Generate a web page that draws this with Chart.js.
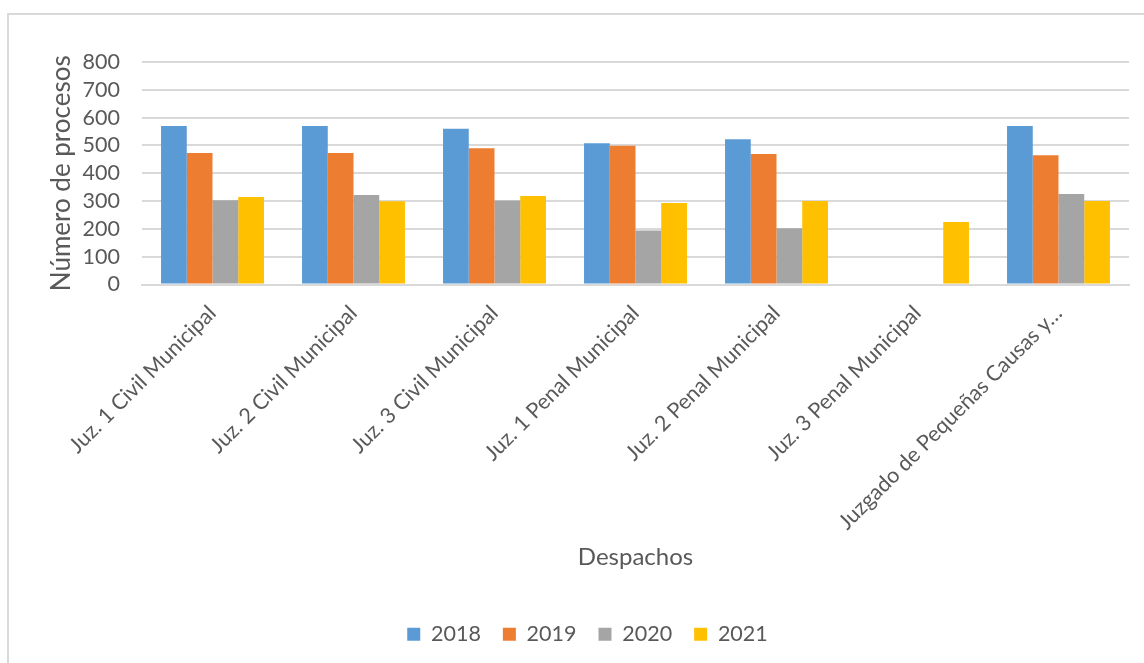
<!DOCTYPE html>
<html>
<head>
<meta charset="utf-8">
<script src="https://cdn.jsdelivr.net/npm/chart.js@4"></script>
<style>
    html, body { margin: 0; padding: 0; background: #fff; }
    #wrap { position: relative; width: 1144px; height: 663px; overflow: hidden; }
    #frame { position: absolute; left: 7px; top: 13px; width: 1160px; height: 680px; border: 2px solid #d9d9d9; box-sizing: border-box; }
    canvas { position: absolute; left: 0; top: 0; }
</style>
</head>
<body>
<div id="wrap">
    <div id="frame"></div>
    <canvas id="chart" width="1144" height="663"></canvas>
</div>
<script>
// Chart data
const despachos = [
    'Juz. 1 Civil Municipal',
    'Juz. 2 Civil Municipal',
    'Juz. 3 Civil Municipal',
    'Juz. 1 Penal Municipal',
    'Juz. 2 Penal Municipal',
    'Juz. 3 Penal Municipal',
    'Juzgado de Pequeñas Causas y…'
];
const years = ['2018', '2019', '2020', '2021'];
const values2018 = [570, 570, 560, 508, 522, null, 570];
const values2019 = [473, 473, 490, 499, 469, null, 465];
const values2020 = [303, 322, 302, 194, 202, null, 325];
const values2021 = [315, 299, 318, 293, 300, 225, 300];
const yTicks = [0, 100, 200, 300, 400, 500, 600, 700, 800];

const colors = ['#5B9BD5', '#ED7D31', '#A5A5A5', '#FFC000'];
const textColor = '#595959';
const fontFamily = 'Lato, "Open Sans", sans-serif';

const ctx = document.getElementById('chart').getContext('2d');

new Chart(ctx, {
    type: 'bar',
    data: {
        labels: despachos,
        datasets: [values2018, values2019, values2020, values2021].map((vals, i) => ({
            label: years[i],
            data: vals,
            backgroundColor: colors[i],
            borderWidth: 0,
            categoryPercentage: 0.73,
            barPercentage: 1
        }))
    },
    options: {
        responsive: false,
        animation: false,
        layout: {
            padding: { left: 46, right: 15, top: 62, bottom: 8 }
        },
        scales: {
            x: {
                grid: { display: false, drawTicks: false },
                border: { color: '#d9d9d9', width: 2 },
                ticks: {
                    color: textColor,
                    font: { family: fontFamily, size: 21.5 },
                    minRotation: 45,
                    maxRotation: 45,
                    autoSkip: false,
                    padding: 16
                },
                title: {
                    display: true,
                    text: 'Despachos',
                    color: textColor,
                    font: { family: fontFamily, size: 24 },
                    padding: { top: 4, bottom: 30 }
                },
                afterFit: scale => { scale.height = 317; }
            },
            y: {
                min: 0,
                max: 800,
                afterBuildTicks: scale => { scale.ticks = yTicks.map(v => ({ value: v })); },
                grid: { color: '#d9d9d9', lineWidth: 2, drawTicks: false },
                border: { display: false },
                ticks: {
                    color: textColor,
                    font: { family: fontFamily, size: 21.5 },
                    padding: 22,
                    autoSkip: false
                },
                title: {
                    display: true,
                    text: 'Número de procesos',
                    color: textColor,
                    font: { family: fontFamily, size: 26 },
                    padding: { top: 0, bottom: 0 }
                },
                afterFit: scale => { scale.width = 96; }
            }
        },
        plugins: {
            legend: {
                position: 'bottom',
                labels: {
                    color: textColor,
                    font: { family: fontFamily, size: 21.5 },
                    boxWidth: 13,
                    boxHeight: 13,
                    padding: 22
                }
            },
            tooltip: { enabled: false }
        }
    }
});
</script>
</body>
</html>
